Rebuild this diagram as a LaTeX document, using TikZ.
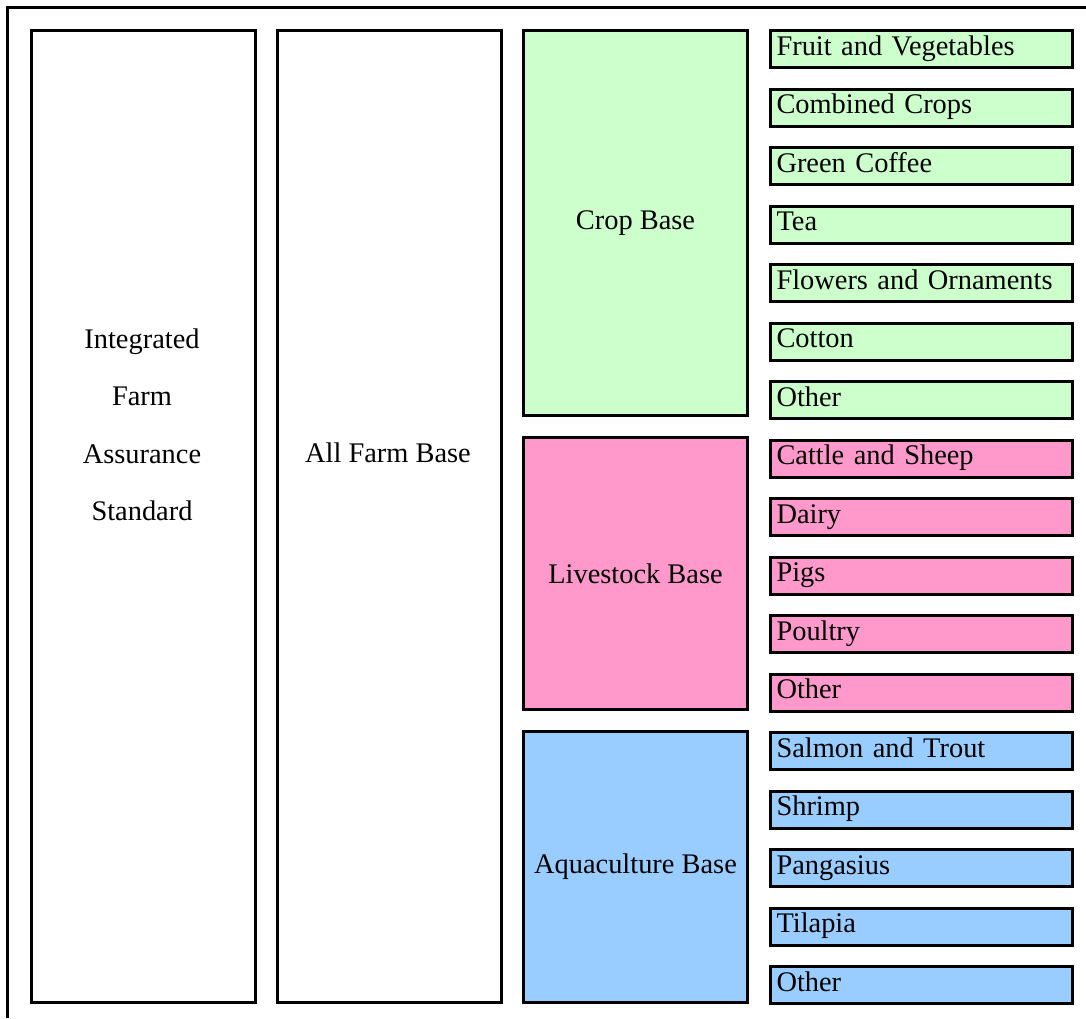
\documentclass[tikz,border=0pt]{standalone}
\usepackage{fontspec}
\setmainfont{Liberation Serif}
\usetikzlibrary{positioning}

\definecolor{cropgreen}{HTML}{CCFFCC}
\definecolor{livepink}{HTML}{FF99CC}
\definecolor{aquablue}{HTML}{99CCFF}

\begin{document}
\begin{tikzpicture}[x=0.5pt, y=-0.5pt,
    every node/.style={font=\fontsize{14.2}{28.75}\selectfont},
    frameline/.style={line width=1.5pt},
    tallbox/.style={draw, line width=1.5pt, anchor=north west, inner sep=0pt,
        minimum width=112pt},
    itembox/.style={draw, line width=1.5pt, anchor=north west, inner xsep=3pt,
        inner ysep=0pt, minimum height=18.5pt, text width=145pt, align=left,
        text height=9pt, text depth=3pt}]
    \useasboundingbox (0,0) rectangle (1086,1018);

    % outer frame (open on the right and bottom)
    \draw[frameline] (7.5,1018) -- (7.5,7.5) -- (1086,7.5);

    % standard and all-farm columns
    \node[tallbox, minimum height=486pt] (ifa) at (30,29) {};
    \node[align=center] (ifatext) at (142,425) {Integrated\\Farm\\Assurance\\Standard};
    \node[tallbox, minimum height=486pt] (allfarm) at (276,29) {};
    \node[anchor=base] (allfarmtext) at (388,462) {All Farm Base};

    % scope bases
    \node[tallbox, fill=cropgreen, minimum height=192.5pt] (crop) at (522,29) {Crop Base};
    \node[tallbox, fill=livepink, minimum height=136pt] (livestock) at (522,436) {Livestock Base};
    \node[tallbox, fill=aquablue, minimum height=135.5pt] (aqua) at (522,730) {Aquaculture Base};

    % modules
    \foreach \txt/\col [count=\k from 0] in {Fruit and Vegetables/cropgreen,
        Combined Crops/cropgreen, Green Coffee/cropgreen, Tea/cropgreen,
        Flowers and Ornaments/cropgreen, Cotton/cropgreen, Other/cropgreen,
        Cattle and Sheep/livepink, Dairy/livepink, Pigs/livepink,
        Poultry/livepink, Other/livepink,
        Salmon and Trout/aquablue, Shrimp/aquablue, Pangasius/aquablue,
        Tilapia/aquablue, Other/aquablue}
    {
    \node[itembox, fill=\col] (module\k) at (769,{29+58.5*\k}) {\txt};
    }
\end{tikzpicture}
\end{document}
